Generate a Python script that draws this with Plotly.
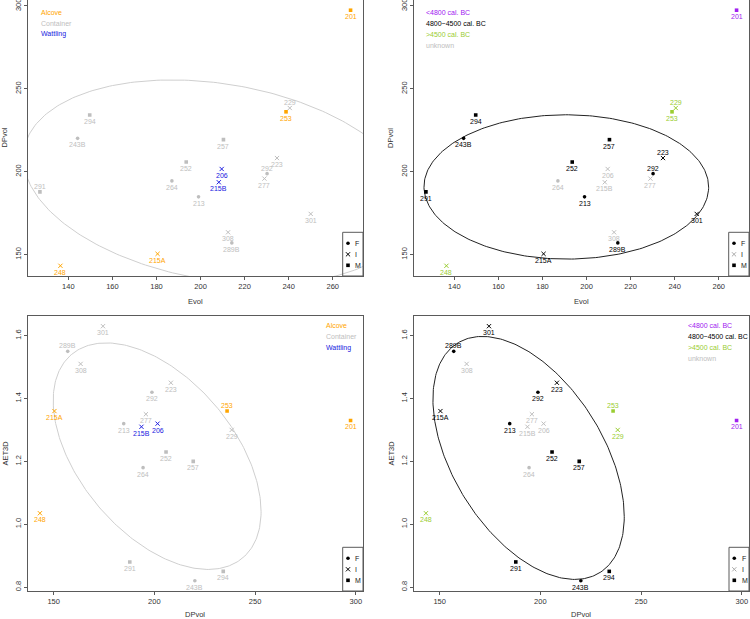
import numpy as np
import plotly.graph_objects as go

# ---------------- data ----------------
samples = ["201", "206", "213", "215A", "215B", "223", "229", "243B", "248", "252",
           "253", "257", "264", "277", "289B", "291", "292", "294", "301", "308"]
evol = [268.1, 209.6, 199.1, 180.5, 208.3, 234.7, 240.5, 144.2, 136.4, 193.5,
        238.8, 210.4, 187.0, 229.0, 214.2, 127.1, 230.2, 149.7, 250.0, 212.5]
dpvol = [297.4, 201.6, 184.8, 150.4, 193.6, 208.2, 238.4, 220.1, 143.2, 205.8,
         236.1, 219.3, 194.4, 195.8, 157.0, 187.8, 198.8, 234.2, 174.5, 163.4]
aet3d = [1.33, 1.32, 1.32, 1.36, 1.31, 1.45, 1.30, 0.82, 1.035, 1.23,
         1.36, 1.20, 1.18, 1.35, 1.55, 0.88, 1.42, 0.85, 1.63, 1.51]
types = ["M", "I", "F", "I", "I", "I", "I", "F", "I", "M",
         "M", "M", "F", "I", "F", "M", "F", "M", "I", "I"]
function = ["Alcove", "Wattling", "Container", "Alcove", "Wattling", "Container", "Container",
            "Container", "Alcove", "Container", "Alcove", "Container", "Container", "Container",
            "Container", "Container", "Container", "Container", "Container", "Container"]
dating = ["<4800 cal. BC", "unknown", "4800~4500 cal. BC", "4800~4500 cal. BC", "unknown",
          "4800~4500 cal. BC", ">4500 cal. BC", "4800~4500 cal. BC", ">4500 cal. BC",
          "4800~4500 cal. BC", ">4500 cal. BC", "4800~4500 cal. BC", "unknown", "unknown",
          "4800~4500 cal. BC", "4800~4500 cal. BC", "4800~4500 cal. BC", "4800~4500 cal. BC",
          "4800~4500 cal. BC", "unknown"]
function_levels = ["Alcove", "Container", "Wattling"]
dating_levels = ["<4800 cal. BC", "4800~4500 cal. BC", ">4500 cal. BC", "unknown"]
type_levels = ["F", "I", "M"]
evol_ticks = [140, 160, 180, 200, 220, 240, 260]
dpvol_ticks_top = [150, 200, 250, 300]
dpvol_ticks_bottom = [150, 200, 250, 300]
aet_ticks = [0.8, 1.0, 1.2, 1.4, 1.6]

# ellipses: centre x, centre y, sd x, sd y, correlation
ellipse_evol_dpvol_function = (208.10, 193.69, 88.52, 61.65, -0.238)
ellipse_evol_dpvol_dating = (190.82, 190.77, 64.60, 43.54, -0.003)
ellipse_dpvol_aet_function = (201.38, 1.2165, 51.60, 0.3603, -0.490)
ellipse_dpvol_aet_dating = (194.16, 1.2109, 47.49, 0.3865, -0.483)

# ---------------- style ----------------
W, H = 750, 619
FONT = "Liberation Sans, Arial, Helvetica, sans-serif"
func_colors = {"Alcove": "#FFA500", "Container": "#BEBEBE", "Wattling": "#2020E0"}
date_colors = {"<4800 cal. BC": "#A020F0", "4800~4500 cal. BC": "#000000",
               ">4500 cal. BC": "#9ACD32", "unknown": "#BEBEBE"}
symbols = {"F": "circle", "I": "x-thin-open", "M": "square"}
sizes = {"F": 3.6, "I": 4.2, "M": 3.6}
frame_col = "#5a5a5a"

panels = {
    "tl": dict(x=evol, y=dpvol, colors=[func_colors[f] for f in function],
               above={"229", "292", "291"}, ell=ellipse_evol_dpvol_function, ell_col="#CFCFCF",
               xdom=(27.5, 363), ydom=(0, 276), xticks=evol_ticks, yticks=dpvol_ticks_top,
               xt="Evol", yt="DPvol", ytx=3.5),
    "tr": dict(x=evol, y=dpvol, colors=[date_colors[d] for d in dating],
               above={"229", "223", "292"}, ell=ellipse_evol_dpvol_dating, ell_col="#222222",
               xdom=(413.5, 749), ydom=(0, 276), xticks=evol_ticks, yticks=dpvol_ticks_top,
               xt="Evol", yt="DPvol", ytx=390),
    "bl": dict(x=dpvol, y=aet3d, colors=[func_colors[f] for f in function],
               above={"289B", "253"}, ell=ellipse_dpvol_aet_function, ell_col="#CFCFCF",
               xdom=(27.5, 363), ydom=(316, 591), xticks=dpvol_ticks_bottom, yticks=aet_ticks,
               xt="DPvol", yt="AET3D", ytx=5),
    "br": dict(x=dpvol, y=aet3d, colors=[date_colors[d] for d in dating],
               above={"289B", "253"}, ell=ellipse_dpvol_aet_dating, ell_col="#222222",
               xdom=(413.5, 749), ydom=(316, 591), xticks=dpvol_ticks_bottom, yticks=aet_ticks,
               xt="DPvol", yt="AET3D", ytx=391),
}


def rng(v):
    lo, hi = min(v), max(v)
    pad = 0.04 * (hi - lo)
    return [lo - pad, hi + pad]


def px(xp, yp):
    return xp / W, 1 - yp / H


fig = go.Figure()
annotations = []
shapes = []
layout_axes = {}

for i, (key, p) in enumerate(panels.items(), start=1):
    xa = "x" if i == 1 else f"x{i}"
    ya = "y" if i == 1 else f"y{i}"
    xname = "xaxis" if i == 1 else f"xaxis{i}"
    yname = "yaxis" if i == 1 else f"yaxis{i}"
    xr = rng(p["x"])
    yr = rng(p["y"])
    axcommon = dict(showline=True, mirror=True, linecolor=frame_col, linewidth=1,
                    ticks="outside", ticklen=3, tickcolor=frame_col, tickwidth=1,
                    showgrid=False, zeroline=False, automargin=False,
                    ticklabeloverflow="allow", ticklabelstandoff=0,
                    tickfont=dict(family=FONT, size=7.5, color="#333333"))
    layout_axes[xname] = dict(axcommon, domain=[p["xdom"][0] / W, p["xdom"][1] / W],
                              range=xr, anchor=ya, tickvals=p["xticks"])
    yfmt = ".1f" if key in ("bl", "br") else "d"
    layout_axes[yname] = dict(axcommon, domain=[1 - p["ydom"][1] / H, 1 - p["ydom"][0] / H],
                              range=yr, anchor=xa, tickvals=p["yticks"], tickangle=-90,
                              tickformat=yfmt)

    # ellipse
    cx, cy, sx, sy, r = p["ell"]
    t = np.linspace(0, 2 * np.pi, 300)
    ex = cx + sx * np.cos(t)
    ey = cy + sy * (r * np.cos(t) + np.sqrt(1 - r * r) * np.sin(t))
    fig.add_trace(go.Scatter(x=ex, y=ey, mode="lines", xaxis=xa, yaxis=ya,
                             line=dict(color=p["ell_col"], width=1), hoverinfo="skip",
                             showlegend=False))

    # points by type
    for tp in type_levels:
        idx = [k for k, v in enumerate(types) if v == tp]
        cols = [p["colors"][k] for k in idx]
        fig.add_trace(go.Scatter(
            x=[p["x"][k] for k in idx], y=[p["y"][k] for k in idx], mode="markers",
            xaxis=xa, yaxis=ya, showlegend=False, hovertext=[samples[k] for k in idx],
            marker=dict(symbol=symbols[tp], size=sizes[tp], color=cols,
                        line=dict(color=cols, width=1 if tp == "I" else 0))))

    # point labels
    for k, s in enumerate(samples):
        above = s in p["above"]
        annotations.append(dict(x=p["x"][k], y=p["y"][k], xref=xa, yref=ya, text=s,
                                xanchor="center", yanchor="middle",
                                showarrow=False, yshift=5.5 if above else -6.5,
                                font=dict(family=FONT, size=7, color=p["colors"][k])))

    # axis titles
    xc = (p["xdom"][0] + p["xdom"][1]) / 2
    ytitle_px = 301.7 if p["ydom"][0] == 0 else 614.3
    ax_, ay_ = px(xc, ytitle_px)
    annotations.append(dict(x=ax_, y=ay_, xref="paper", yref="paper", text=p["xt"],
                            xanchor="center", yanchor="middle", showarrow=False,
                            font=dict(family=FONT, size=7.5, color="#333333")))
    yc = (p["ydom"][0] + p["ydom"][1]) / 2
    bx_, by_ = px(p["ytx"], yc)
    annotations.append(dict(x=bx_, y=by_, xref="paper", yref="paper", text=p["yt"],
                            xanchor="center", yanchor="middle",
                            textangle=-90, showarrow=False,
                            font=dict(family=FONT, size=7.5, color="#333333")))


# ---- text legends ----
def text_legend(labels, colors, x0, y0, dy=11):
    for j, lab in enumerate(labels):
        lx, ly = px(x0, y0 + j * dy)
        annotations.append(dict(x=lx, y=ly, xref="paper", yref="paper", text=lab,
                                xanchor="left", yanchor="middle", showarrow=False,
                                font=dict(family=FONT, size=7, color=colors[lab])))


text_legend(function_levels, func_colors, 38.5, 12.3)
text_legend(dating_levels, date_colors, 424.5, 12.3)
text_legend(function_levels, func_colors, 323.5, 325.7)
text_legend(dating_levels, date_colors, 686, 325.7)

# ---- F/I/M legend boxes (overlay axis in pixel units) ----
legend_boxes = [(342.7, 232.3, 363, 276, False), (728.7, 232.3, 749, 276, True),
                (342.7, 547.3, 363, 591, False), (729, 547.3, 749, 591, True)]
for (x0, y0, x1, y1, grey_i) in legend_boxes:
    shapes.append(dict(type="rect", xref="x5", yref="y5", x0=x0, y0=y0, x1=x1, y1=y1,
                       line=dict(color=frame_col, width=1)))
    for j, tp in enumerate(type_levels):
        yy = y0 + 11 + j * 11
        col = "#AAAAAA" if (grey_i and tp == "I") else "#000000"
        fig.add_trace(go.Scatter(x=[x0 + 5.3], y=[yy], mode="markers", xaxis="x5", yaxis="y5",
                                 showlegend=False, hoverinfo="skip",
                                 marker=dict(symbol=symbols[tp], size=sizes[tp], color=col,
                                             line=dict(color=col, width=1 if tp == "I" else 0))))
        annotations.append(dict(x=x0 + 10.5, y=yy, xref="x5", yref="y5", text=tp,
                                xanchor="left", yanchor="middle", showarrow=False,
                                font=dict(family=FONT, size=7, color="#222222")))

layout_axes["xaxis5"] = dict(domain=[0, 1], range=[0, W], visible=False, fixedrange=True,
                             automargin=False)
layout_axes["yaxis5"] = dict(domain=[0, 1], range=[H, 0], visible=False, fixedrange=True,
                             anchor="x5", automargin=False)

fig.update_layout(width=W, height=H, margin=dict(l=0, r=0, t=0, b=0, autoexpand=False),
                  paper_bgcolor="white", plot_bgcolor="rgba(0,0,0,0)",
                  annotations=annotations, shapes=shapes, showlegend=False, **layout_axes)
fig.write_html("out.html", config={"displayModeBar": False},
               post_script="document.body.style.margin='0';document.body.style.overflow='hidden';")
